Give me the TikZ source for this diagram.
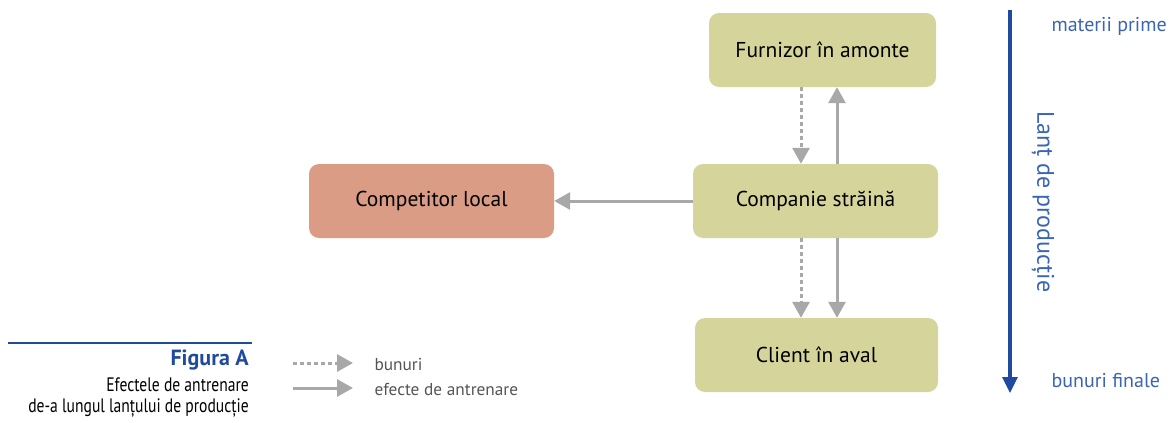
\documentclass[tikz,border=0pt]{standalone}
\usepackage{fontspec}
\setmainfont{PT Sans}
\newfontfamily\capfont[FakeStretch=0.8]{PT Sans}
\usetikzlibrary{arrows.meta}
\definecolor{boxgreen}{HTML}{D5D49A}
\definecolor{boxred}{HTML}{DA9C85}
\definecolor{linkgrey}{HTML}{A8A8A8}
\definecolor{chainblue}{HTML}{1F4A9E}
\definecolor{labelblue}{HTML}{3A64B4}
\definecolor{legendtext}{HTML}{555555}
\tikzset{
  stage/.style={rounded corners=10pt, fill=boxgreen, minimum height=74pt,
    inner sep=0pt, font=\fontsize{21.5}{24}\selectfont, text=black},
  rival/.style={stage, fill=boxred},
  goods/.style={linkgrey, line width=3pt, dash pattern=on 4pt off 3pt,
    -{Triangle[length=16pt,width=17pt]}},
  effect/.style={linkgrey, line width=3pt,
    -{Triangle[length=16pt,width=17pt]}},
  chainlabel/.style={text=labelblue, font=\fontsize{20}{22}\selectfont},
  legendlabel/.style={text=legendtext, font=\fontsize{17.3}{20}\selectfont, anchor=west},
  caption/.style={anchor=east, inner sep=0pt, font=\capfont\fontsize{19.5}{22}\selectfont}
}
\begin{document}
\begin{tikzpicture}[x=1pt, y=-1pt]
\useasboundingbox (0,0) rectangle (1171,423);

% production stages
\node[stage, minimum width=227pt] (sup) at (822.5,50) {Furnizor în amonte};
\node[stage, minimum width=245pt] (comp) at (815.5,201) {Companie străină};
\node[stage, minimum width=243pt] (cli) at (816.5,355) {Client în aval};
\node[rival, minimum width=245pt] (loc) at (431.5,201) {Competitor local};

% link columns
\coordinate (gx) at (801,0);
\coordinate (ex) at (837,0);

\draw[goods] (sup.south -| gx) -- (comp.north -| gx);
\draw[effect] (comp.north -| ex) -- (sup.south -| ex);
\draw[goods] (comp.south -| gx) -- (cli.north -| gx);
\draw[effect] (comp.south -| ex) -- (cli.north -| ex);
\draw[effect] (comp.west) -- (comp.west -| loc.east);

% production chain axis
\coordinate (chaintop) at (1010,10);
\coordinate (chainbot) at (1010,393);
\draw[chainblue, line width=3.2pt, -{Triangle[length=16pt,width=15pt]}] (chaintop) -- (chainbot);
\node[chainlabel, anchor=west] (raw) at (1048,26) {materii prime};
\node[chainlabel, anchor=west] (fin) at (1048,381) {bunuri finale};
\node[chainlabel, rotate=-90, font=\fontsize{24}{26}\selectfont] (chain) at (1043,202) {Lanț de producție};

% legend
\coordinate (lg1a) at (293,363);
\coordinate (lg1b) at (353,363);
\coordinate (lg2a) at (293,388);
\coordinate (lg2b) at (353,388);
\draw[goods] (lg1a) -- (lg1b);
\draw[effect] (lg2a) -- (lg2b);
\node[legendlabel] (lgoods) at (371,364) {bunuri};
\node[legendlabel] (leffect) at (371,389) {efecte de antrenare};

% caption
\coordinate (rulel) at (8,343);
\coordinate (ruler) at (252,343);
\draw[chainblue, line width=2pt] (rulel) -- (ruler);
\node[caption, text=chainblue, font=\bfseries\fontsize{22}{24}\selectfont] (fig) at (249,360) {Figura A};
\node[caption] (cap1) at (249,385) {Efectele de antrenare};
\node[caption] (cap2) at (249,408) {de-a lungul lanțului de producție};
\end{tikzpicture}
\end{document}
